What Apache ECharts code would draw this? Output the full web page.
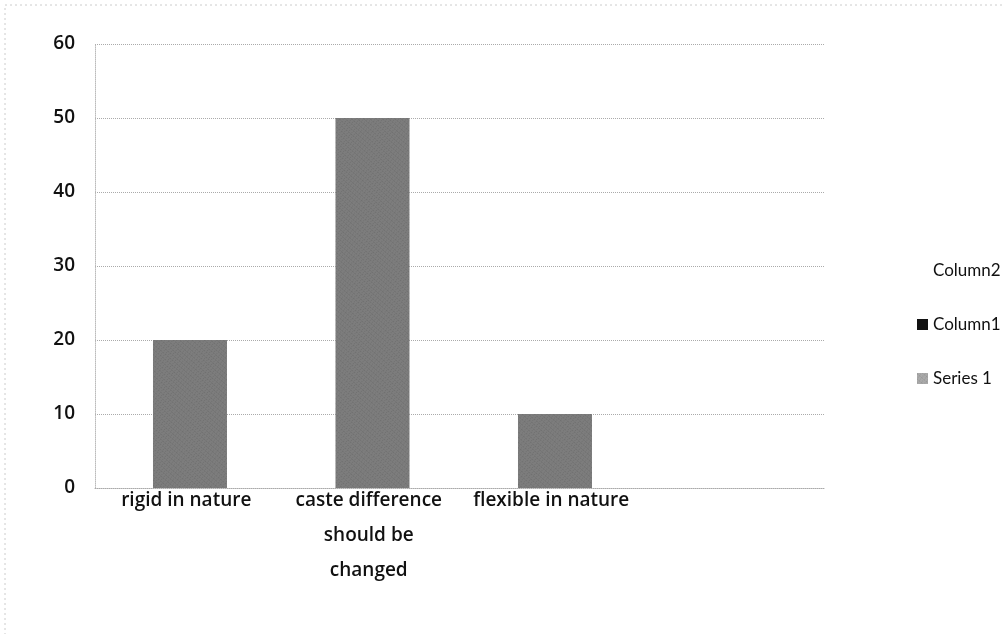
<!DOCTYPE html>
<html>
<head>
<meta charset="utf-8">
<script src="https://cdn.jsdelivr.net/npm/echarts@6/dist/echarts.min.js"></script>
<style>
  html, body { margin: 0; padding: 0; background: #fff; }
  #chart { width: 1003px; height: 634px; }
</style>
</head>
<body>
<div id="chart"></div>
<script>
// categories on the x axis (4th slot is empty in the source chart)
var categories = ['rigid in nature', 'caste difference\nshould be\nchanged', 'flexible in nature', ''];
var series1 = [20, 50, 10, null];
var column1 = [null, null, null, null];
var column2 = [null, null, null, null];
var yTicks = { min: 0, max: 60, interval: 10 };

var chart = echarts.init(document.getElementById('chart'));
var font = '"Open Sans", Lato, sans-serif';

chart.setOption({
  animation: false,
  backgroundColor: '#fff',
  textStyle: { fontFamily: font },
  grid: { left: 95, right: 178, top: 44, bottom: 146 },
  legend: {
    orient: 'vertical',
    left: 912,
    top: 257,
    itemGap: 37,
    itemWidth: 11,
    itemHeight: 11,
    icon: 'rect',
    textStyle: { fontSize: 17, color: '#111', fontFamily: 'Lato, sans-serif' },
    data: [
      { name: 'Column2', itemStyle: { color: 'transparent' } },
      { name: 'Column1', itemStyle: { color: '#111' } },
      { name: 'Series 1', itemStyle: { color: '#aaa' } }
    ]
  },
  xAxis: {
    type: 'category',
    data: categories,
    axisLine: { show: true, lineStyle: { color: '#aaa', type: 'dotted', width: 1 } },
    axisTick: { show: false },
    axisLabel: {
      color: '#111',
      fontSize: 19,
      fontWeight: 600,
      lineHeight: 35,
      margin: -5,
      interval: 0
    }
  },
  yAxis: {
    type: 'value',
    min: yTicks.min,
    max: yTicks.max,
    interval: yTicks.interval,
    axisLine: { show: true, lineStyle: { color: '#bbb', type: 'dotted' } },
    axisTick: { show: false },
    axisLabel: { color: '#111', fontSize: 19, fontWeight: 600, margin: 20 },
    splitLine: { lineStyle: { color: '#aaa', type: 'dotted', width: 1 } }
  },
  series: [
    {
      name: 'Series 1',
      type: 'bar',
      data: series1,
      barWidth: 74,
      barGap: '-100%',
      itemStyle: {
        color: '#7d7d7d',
        decal: {
          symbol: 'rect',
          symbolSize: 0.6,
          color: 'rgba(30,30,30,0.45)',
          dashArrayX: [[1, 2], [2, 1]],
          dashArrayY: [1, 1],
          rotation: 0.7
        }
      }
    },
    { name: 'Column1', type: 'bar', data: column1, itemStyle: { color: '#111' } },
    { name: 'Column2', type: 'bar', data: column2, itemStyle: { color: 'transparent' } }
  ],
  graphic: [
    {
      type: 'rect',
      shape: { x: 5, y: 5, width: 1010, height: 640 },
      style: { fill: 'none', stroke: '#ccc', lineDash: [2, 3], lineWidth: 1 }
    }
  ]
});
</script>
</body>
</html>
